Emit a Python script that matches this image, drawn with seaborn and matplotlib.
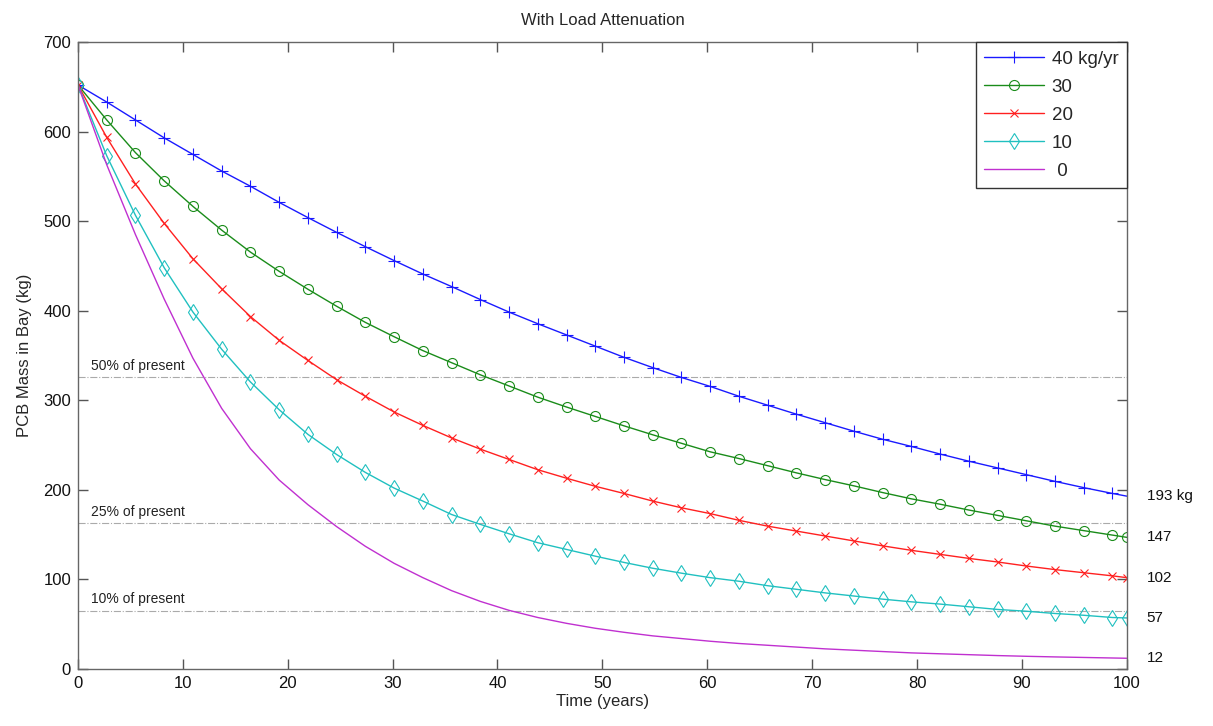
import matplotlib
matplotlib.use("Agg")
import matplotlib.pyplot as plt
import seaborn as sns
import pandas as pd

# Time grid (years) of the model output
years = [0, 2.74, 5.48, 8.22, 10.96, 13.70, 16.44, 19.18, 21.92, 24.66, 27.40,
         30.14, 32.88, 35.62, 38.36, 41.10, 43.84, 46.58, 49.32, 52.06, 54.80,
         57.54, 60.28, 63.02, 65.76, 68.50, 71.24, 73.98, 76.72, 79.46, 82.20,
         84.94, 87.68, 90.42, 93.16, 95.90, 98.64, 100]

# PCB mass in the Bay (kg) for each external load scenario
load_40 = [652, 633, 613, 593, 574.5, 556, 539, 521, 504, 487.5, 471.5, 456, 441,
           427, 412.5, 398.5, 385.5, 373, 360.5, 348, 336.5, 325.5, 315.5, 304.5,
           294.5, 284.5, 275, 265.5, 256.5, 248.5, 240, 232, 224.5, 217, 209.5,
           202.5, 196, 193]
load_30 = [652, 613, 576.5, 545, 516.5, 490, 465.5, 444, 424, 405, 387, 371, 355.5,
           342, 328.5, 316, 303.5, 292.5, 282, 271.5, 261.5, 252, 242.5, 235, 227,
           219, 211.5, 204.5, 197, 190, 184, 177.5, 171.5, 165.5, 159.5, 154.5,
           149.5, 147]
load_20 = [652, 593.5, 541.5, 497.5, 458, 424.5, 393.5, 367, 344.5, 323, 304.5, 287,
           272, 258, 245.5, 234, 222.5, 213, 204, 196, 187.5, 180, 173.5, 166, 159.5,
           154, 148.5, 143, 137.5, 132.5, 128, 123.5, 119.5, 115, 111, 107.5, 104, 102]
load_10 = [652, 573, 506.5, 448, 398.5, 357, 320.5, 289.5, 262, 239.5, 219.5, 202,
           187.5, 172.5, 161.5, 151, 141, 133.5, 126, 119, 112.5, 107, 102, 98, 93,
           89, 85, 81.5, 78, 75, 72.5, 69.5, 66.5, 64.5, 62, 60, 57.5, 57]
load_0 = [652, 563, 485, 413, 347, 291, 246, 211, 183.5, 159, 137, 118, 102, 87.5,
          75.5, 65.5, 57.5, 51, 45.5, 41, 37, 34, 31, 28.5, 26.5, 24.5, 22.5, 21,
          19.5, 18, 17, 16, 15, 14.2, 13.5, 12.9, 12.3, 12]

series_labels = ["40 kg/yr", "30", "20", "10", " 0"]
end_labels = ["193 kg", "147", "102", "57", "12"]
present_mass = 652
fractions = [0.50, 0.25, 0.10]
fraction_labels = ["50% of present", "25% of present", "10% of present"]

series = [load_40, load_30, load_20, load_10, load_0]
colors = ["#1a1aff", "#1a8c1a", "#ff2020", "#20c0c0", "#c030d0"]
markers = ["+", "o", "x", "d", None]
msizes = [8.5, 7.2, 5.5, 8.5, 0]

sns.set_style("ticks")
plt.rcParams["font.family"] = ["Liberation Sans", "DejaVu Sans"]

fig = plt.figure(figsize=(12.13, 7.26), dpi=100)
ax = fig.add_axes([0.0643, 0.0785, 0.8646, 0.8636])

for vals, lab, col, mk, ms in zip(series, series_labels, colors, markers, msizes):
    df = pd.DataFrame({"t": years, "m": vals})
    kw = dict(x="t", y="m", data=df, ax=ax, color=col, label=lab, linewidth=1.0,
              estimator=None, sort=False)
    if mk is not None:
        kw.update(marker=mk, markersize=ms, markerfacecolor="none",
                  markeredgecolor=col, markeredgewidth=0.8)
        if lab == "40 kg/yr":
            kw.update(markevery=list(range(len(years) - 1)))
    sns.lineplot(**kw)

# Reference levels relative to present mass
for f, txt in zip(fractions, fraction_labels):
    lvl = present_mass * f
    ax.axhline(lvl, color="#aaaaaa", linewidth=0.8, linestyle="-.", zorder=0)
    ax.text(1.2, lvl + 5, txt, fontsize=10, color="#222222", va="bottom", ha="left")

# Final values printed at the right edge
for vals, txt in zip(series, end_labels):
    ax.text(101.9, vals[-1], txt, fontsize=11, va="center", ha="left",
            clip_on=False, color="#111111")

ax.set_xlim(0, 100)
ax.set_ylim(0, 700)
ax.set_xticks(range(0, 101, 10))
ax.set_yticks(range(0, 701, 100))
ax.tick_params(direction="in", length=7, width=1, color="#555555",
               top=True, right=True, labelsize=12, labelcolor="#111111", pad=5)
for s in ax.spines.values():
    s.set_color("#666666")
    s.set_linewidth(1.0)
    s.set_visible(True)

ax.set_xlabel("Time (years)", fontsize=12, labelpad=2)
ax.set_ylabel("PCB Mass in Bay (kg)", fontsize=12, labelpad=8)
ax.set_title("With Load Attenuation", fontsize=12, pad=12)

leg = ax.legend(loc="upper right", fontsize=13.5, borderaxespad=0, fancybox=False,
                framealpha=1, edgecolor="#333333", handlelength=3.2,
                labelspacing=0.58, handletextpad=0.4, borderpad=0.45)
leg.get_frame().set_linewidth(1.0)

fig.savefig("out.png", dpi=100, facecolor="white")
